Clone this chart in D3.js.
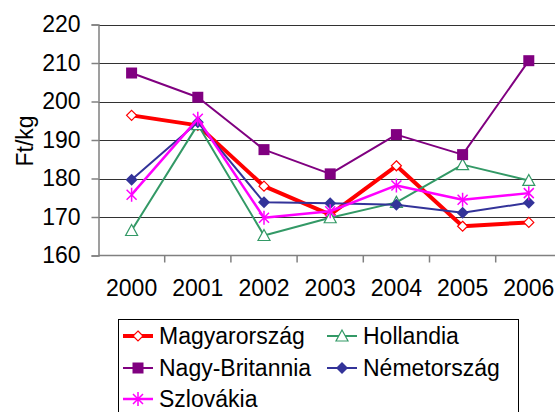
<!DOCTYPE html>
<html>
<head>
<meta charset="utf-8">
<script src="https://cdn.jsdelivr.net/npm/d3@7"></script>
<style>
  body { margin: 0; background: #fff; }
  svg { display: block; font-family: "Liberation Sans", Arial, sans-serif; }
</style>
</head>
<body>
<div id="chart"></div>
<script>
// data
const years = ["2000", "2001", "2002", "2003", "2004", "2005", "2006"];
const magyarorszag = [196.4, 193.8, 178.0, 170.6, 183.3, 167.6, 168.6];
const hollandia = [166.5, 194.0, 165.2, 169.8, 173.8, 183.6, 179.5];
const nagyBritannia = [207.4, 201.1, 187.5, 181.2, 191.4, 186.2, 210.6];
const nemetorszag = [179.7, 194.6, 173.8, 173.6, 173.2, 171.1, 173.7];
const szlovakia = [175.8, 195.5, 169.8, 171.5, 178.2, 174.5, 176.2];
const yTicks = [160, 170, 180, 190, 200, 210, 220];

const series = [
  { name: "Magyarország", values: magyarorszag, color: "#ff0000", width: 4, marker: "diamondOpen" },
  { name: "Hollandia", values: hollandia, color: "#339966", width: 2, marker: "triangle" },
  { name: "Nagy-Britannia", values: nagyBritannia, color: "#800080", width: 2, marker: "square" },
  { name: "Németország", values: nemetorszag, color: "#333399", width: 2, marker: "diamond" },
  { name: "Szlovákia", values: szlovakia, color: "#ff00ff", width: 2.5, marker: "star" }
];

const W = 555, H = 412;
const fontSize = 23;
const svg = d3.select("#chart").append("svg").attr("width", W).attr("height", H);

const plotLeft = 98.5, plotTop = 24.5, plotBottom = 255.5, step = 66.2;
const x = d3.scaleBand().domain(years).range([plotLeft, plotLeft + step * years.length]);
const y = d3.scaleLinear().domain([160, 220]).range([plotBottom, plotTop]);

// gridlines
svg.append("g").selectAll("line").data(yTicks.slice(1)).enter().append("line")
  .attr("x1", plotLeft).attr("x2", W)
  .attr("y1", d => Math.round(y(d)) + 0.5).attr("y2", d => Math.round(y(d)) + 0.5)
  .attr("stroke", "#000").attr("stroke-width", 1).attr("opacity", 0.8);

// axes
const yAxis = svg.append("g").attr("transform", `translate(${plotLeft},0)`)
  .call(d3.axisLeft(y).tickValues(yTicks).tickSize(7).tickPadding(11));
const xAxis = svg.append("g").attr("transform", `translate(0,${plotBottom})`)
  .call(d3.axisBottom(x).tickSize(0).tickPadding(24));
[yAxis, xAxis].forEach(a => {
  a.select(".domain").attr("stroke", "#808080").attr("stroke-width", 1.5);
  a.selectAll(".tick line").attr("stroke", "#808080").attr("stroke-width", 1.5);
  a.selectAll("text").attr("font-size", fontSize).attr("fill", "#000")
    .attr("font-family", "Liberation Sans, Arial, sans-serif");
});
xAxis.select(".domain").attr("d", `M${plotLeft},0H${W}`);
// category boundary ticks
svg.append("g").selectAll("line").data(years.slice(1)).enter().append("line")
  .attr("x1", d => x(d)).attr("x2", d => x(d))
  .attr("y1", plotBottom).attr("y2", plotBottom + 7)
  .attr("stroke", "#808080").attr("stroke-width", 1.5);

svg.append("text")
  .attr("transform", `translate(33,141) rotate(-90)`)
  .attr("text-anchor", "middle").attr("font-size", fontSize).text("Ft/kg");

const cx = d => x(d) + x.bandwidth() / 2;

function drawMarker(g, type, color) {
  if (type === "diamondOpen") {
    g.append("path").attr("d", "M0,-5L5,0L0,5L-5,0Z").attr("fill", "#fff").attr("stroke", color).attr("stroke-width", 1.2);
  } else if (type === "triangle") {
    g.append("path").attr("d", "M0,-6L6,5L-6,5Z").attr("fill", "#fff").attr("stroke", color).attr("stroke-width", 1.2);
  } else if (type === "square") {
    g.append("rect").attr("x", -5.5).attr("y", -5.5).attr("width", 11).attr("height", 11).attr("fill", color);
  } else if (type === "diamond") {
    g.append("path").attr("d", "M0,-6L6,0L0,6L-6,0Z").attr("fill", color);
  } else if (type === "star") {
    g.append("path").attr("d", "M-5,-5L5,5M-5,5L5,-5M0,-7L0,7").attr("stroke", color).attr("stroke-width", 1.5).attr("fill", "none");
  }
}

const line = d3.line().x((d, i) => cx(years[i])).y(d => y(d));

series.forEach(s => {
  svg.append("path").datum(s.values)
    .attr("d", line).attr("fill", "none")
    .attr("stroke", s.color).attr("stroke-width", s.width).attr("stroke-linejoin", "round");
  s.values.forEach((v, i) => {
    const g = svg.append("g").attr("transform", `translate(${cx(years[i])},${y(v)})`);
    drawMarker(g, s.marker, s.color);
  });
});

// legend
const legend = svg.append("g");
legend.append("rect").attr("x", 118.5).attr("y", 319.5).attr("width", 400).attr("height", 110)
  .attr("fill", "#fff").attr("stroke", "#000").attr("stroke-width", 1);
const legendPos = [
  { s: series[0], x: 123, y: 336 },
  { s: series[1], x: 327, y: 336 },
  { s: series[2], x: 123, y: 368 },
  { s: series[3], x: 327, y: 368 },
  { s: series[4], x: 123, y: 399 }
];
legendPos.forEach(p => {
  const g = legend.append("g").attr("transform", `translate(${p.x},${p.y})`);
  g.append("line").attr("x1", 0).attr("x2", 30).attr("stroke", p.s.color).attr("stroke-width", p.s.width);
  const m = g.append("g").attr("transform", "translate(15,0)");
  drawMarker(m, p.s.marker, p.s.color);
  g.append("text").attr("x", 36).attr("y", 8).attr("font-size", fontSize).text(p.s.name);
});
</script>
</body>
</html>
